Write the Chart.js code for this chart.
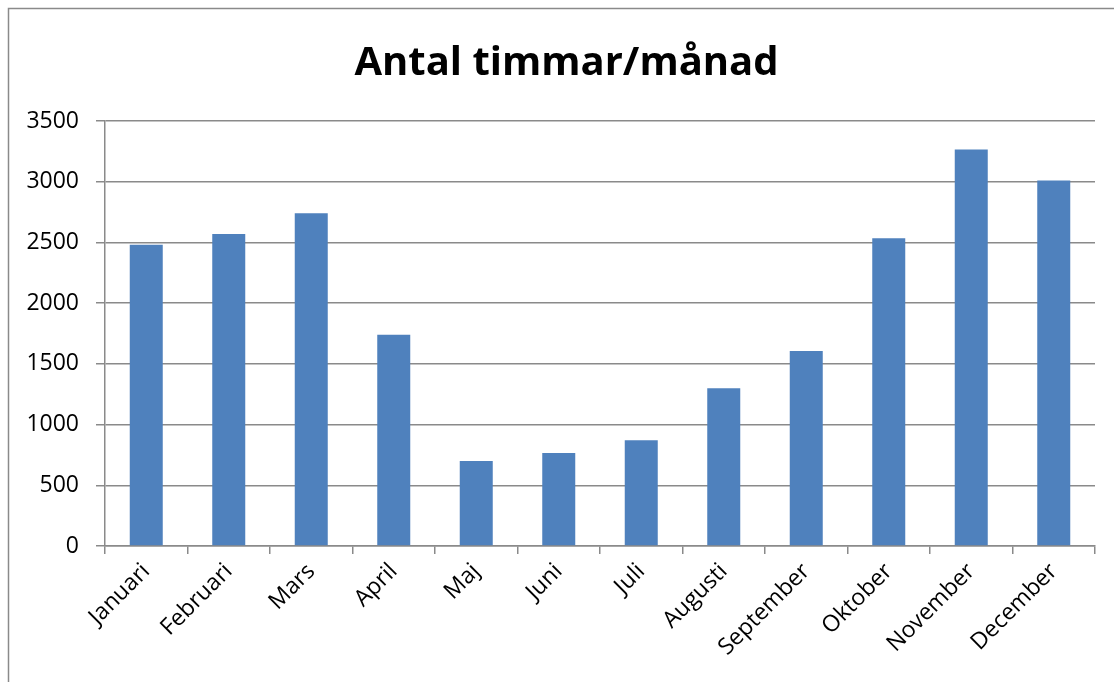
<!DOCTYPE html>
<html>
<head>
<meta charset="utf-8">
<script src="https://cdn.jsdelivr.net/npm/chart.js@4"></script>
<style>
html,body{margin:0;padding:0;background:#fff;}
#wrap{width:1114px;height:682px;position:relative;}
</style>
</head>
<body>
<div id="wrap"><canvas id="c" width="1114" height="682"></canvas></div>
<script>
const months = ["Januari","Februari","Mars","April","Maj","Juni","Juli","Augusti","September","Oktober","November","December"];
const hours = [2480, 2570, 2740, 1740, 700, 765, 870, 1300, 1605, 2535, 3265, 3010];
const titleText = "Antal timmar/månad";
const yMin = 0, yMax = 3500, yStep = 500;

const FONT = "'Open Sans', 'Liberation Sans', sans-serif";

const borderPlugin = {
  id: 'outerBorder',
  beforeDraw(chart) {
    const ctx = chart.ctx;
    ctx.save();
    ctx.fillStyle = '#fff';
    ctx.fillRect(0, 0, chart.width, chart.height);
    ctx.strokeStyle = '#8a8a8a';
    ctx.lineWidth = 1.5;
    ctx.strokeRect(8.5, 8.5, 1120, 690);
    ctx.restore();
  },
  afterLayout(chart) {
    const tb = chart.titleBlock;
    if (tb) { tb.left += 14; tb.right += 14; }
  }
};

new Chart(document.getElementById('c'), {
  type: 'bar',
  data: {
    labels: months,
    datasets: [{
      data: hours,
      backgroundColor: '#4F81BD',
      borderWidth: 0,
      categoryPercentage: 1.0,
      barPercentage: 0.4
    }]
  },
  options: {
    responsive: false,
    animation: false,
    devicePixelRatio: 1,
    layout: { padding: { left: 10, right: 19, top: 0, bottom: 0 } },
    plugins: {
      legend: { display: false },
      tooltip: { enabled: false },
      title: {
        display: true,
        text: titleText,
        color: '#000',
        font: { family: FONT, size: 40, weight: 'bold' },
        padding: { top: 40, bottom: 33 }
      }
    },
    scales: {
      x: {
        grid: {
          display: true,
          drawOnChartArea: false,
          drawTicks: true,
          tickLength: 8,
          color: '#8a8a8a',
          lineWidth: 1.5,
          offset: true
        },
        border: { display: true, color: '#8a8a8a', width: 1.5 },
        ticks: {
          color: '#000',
          font: { family: FONT, size: 23 },
          maxRotation: 45,
          minRotation: 45,
          padding: 4,
          autoSkip: false
        },
        afterFit(scale) { scale.height = 136; }
      },
      y: {
        min: yMin,
        max: yMax,
        grid: {
          color: '#8a8a8a',
          lineWidth: 1.5,
          tickLength: 9,
          drawTicks: true
        },
        border: { display: true, color: '#8a8a8a', width: 1.5 },
        ticks: {
          stepSize: yStep,
          color: '#000',
          font: { family: FONT, size: 23 },
          padding: 17,
          callback: (v) => String(v)
        },
        afterFit(scale) { scale.width = 95; }
      }
    }
  },
  plugins: [borderPlugin]
});
</script>
</body>
</html>
